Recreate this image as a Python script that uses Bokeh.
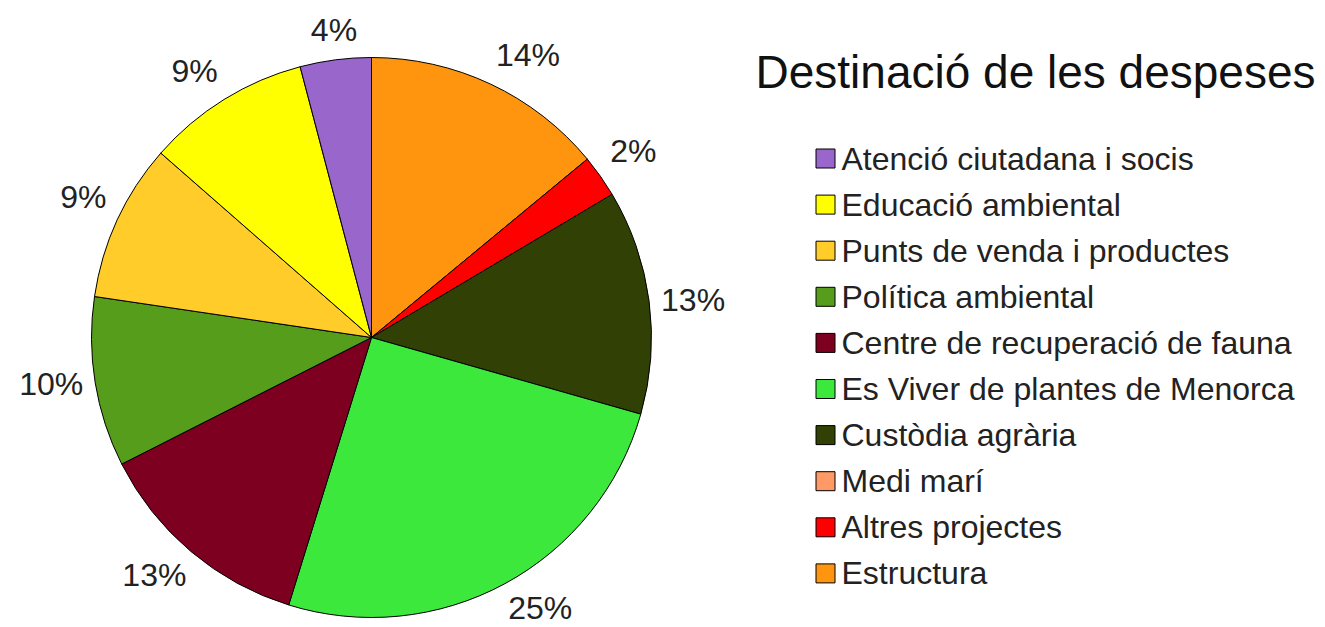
import math
from bokeh.plotting import figure
from bokeh.models import Range1d, ColumnDataSource
from bokeh.core.properties import value
from bokeh.embed import file_html
from bokeh.resources import INLINE

# ---- data (legend order) ----
categories = [
    "Atenció ciutadana i socis",
    "Educació ambiental",
    "Punts de venda i productes",
    "Política ambiental",
    "Centre de recuperació de fauna",
    "Es Viver de plantes de Menorca",
    "Custòdia agrària",
    "Medi marí",
    "Altres projectes",
    "Estructura",
]
values = [4.1, 9.45, 9.1, 9.8, 12.75, 25.35, 12.95, 0.0, 2.45, 14.0]
colors = ["#9966cc", "#ffff00", "#ffcc29", "#579d1c", "#7e0021",
          "#3de83d", "#314004", "#ff9966", "#ff0000", "#ff950e"]
title_text = "Destinació de les despeses"

W, H = 1325, 627
FONT = "Liberation Sans"

p = figure(width=W, height=H, output_backend="svg", toolbar_location=None,
           x_range=Range1d(0, W), y_range=Range1d(0, H),
           x_axis_type=None, y_axis_type=None, min_border=0)
p.grid.visible = False
p.outline_line_color = None
p.background_fill_color = "white"
p.border_fill_color = "white"

# pie geometry
cx, cy, R = 371, H - 337, 280
total = sum(values)

# slices go clockwise from top in reverse legend order
order = list(range(len(values)))[::-1]
starts, ends, cols, lx, ly, ltxt, lal, lbl = [], [], [], [], [], [], [], []
cum = 0.0
for i in order:
    v = values[i]
    t1 = cum / total * 360.0
    t2 = (cum + v) / total * 360.0
    cum += v
    if v <= 0:
        continue
    # bokeh angles: ccw from +x
    starts.append(math.radians(90 - t2))
    ends.append(math.radians(90 - t1))
    cols.append(colors[i])
    tm = math.radians((t1 + t2) / 2)
    s, c = math.sin(tm), math.cos(tm)
    rr = R + (7 if c < -0.3 else 12)
    lx.append(cx + rr * s)
    ly.append(cy + rr * c)
    ltxt.append(f"{round(v / total * 100)}%")
    lal.append("left" if s > 0.3 else ("right" if s < -0.3 else "center"))
    lbl.append("bottom" if c > 0.3 else ("top" if c < -0.3 else "middle"))

wsrc = ColumnDataSource(dict(start=starts, end=ends, color=cols))
p.wedge(x=cx, y=cy, radius=R, start_angle="start", end_angle="end",
        fill_color="color", line_color="black", line_width=1, source=wsrc)

lsrc = ColumnDataSource(dict(x=lx, y=ly, text=ltxt, align=lal, base=lbl))
p.text(x="x", y="y", text="text", text_align="align", text_baseline="base",
       text_font=value(FONT), text_font_size="32px", text_color="#222222",
       source=lsrc)

# title
p.text(x=[755], y=[H - 71], text=[title_text], text_font=value(FONT),
       text_font_size="46px", text_color="#111111",
       text_align="left", text_baseline="alphabetic")

# legend
y0, dy = H - 158, 46.1
leg_y = [y0 - k * dy for k in range(len(categories))]
leg_src = ColumnDataSource(dict(y=leg_y, text=categories, color=colors))
p.rect(x=825, y="y", width=19, height=19, width_units="screen",
       height_units="screen", fill_color="color", line_color="black",
       line_width=1, source=leg_src)
p.text(x=841, y="y", text="text", text_font=value(FONT),
       text_font_size="32px", text_color="#222222", text_align="left",
       text_baseline="middle", source=leg_src)

open("out.html", "w").write(file_html(p, INLINE))
